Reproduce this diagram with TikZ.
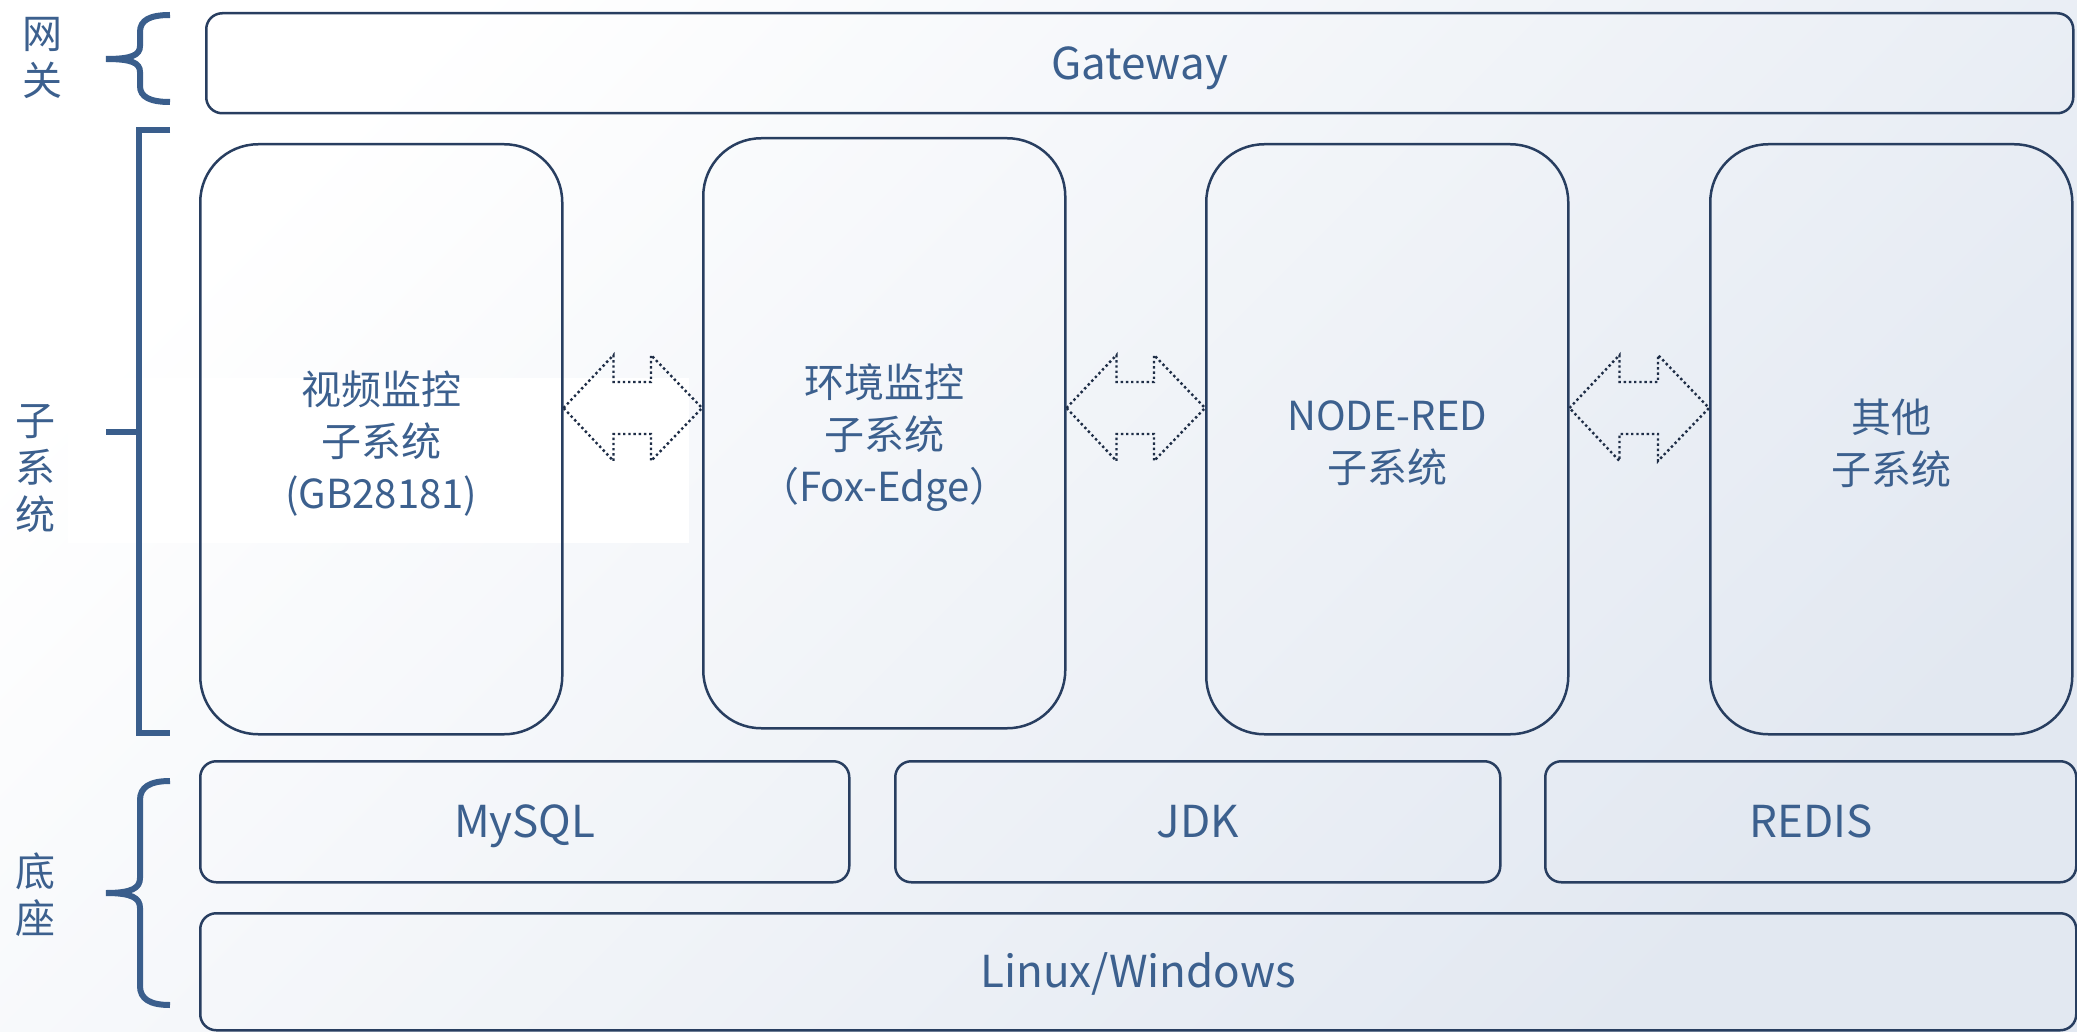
\documentclass[tikz,border=0pt]{standalone}
\usepackage{fontspec}
\setmainfont{Noto Sans CJK SC}
\usetikzlibrary{calc}
\definecolor{txtblue}{RGB}{60,96,142}
\definecolor{boxline}{RGB}{40,62,96}
\definecolor{bracecol}{RGB}{58,94,140}
\definecolor{dotline}{RGB}{30,45,70}
\definecolor{bgend}{RGB}{226,232,241}

\begin{document}
\begin{tikzpicture}[x=1pt, y=-1pt,
    box/.style={draw=boxline, line width=2.5pt, rounded corners=16pt, anchor=north west,
        inner sep=0pt, text=txtblue, align=center, font=\fontsize{44}{52}\selectfont,
        text height=40pt, text depth=8pt},
    subbox/.style={draw=boxline, line width=2.5pt, rounded corners=58pt, anchor=north west,
        minimum width=362pt, minimum height=590pt},
    subtext/.style={text=txtblue, align=center, font=\fontsize{40}{52}\selectfont},
    side/.style={text=txtblue, align=center, font=\fontsize{40}{47}\selectfont},
    bracket/.style={draw=bracecol, line width=6pt},
    link/.style={draw=dotline, line width=2.4pt, dash pattern=on 2.4pt off 2.8pt}]

    \useasboundingbox (0,0) rectangle (2077,1032);
    \shade[top color=white, bottom color=bgend, shading angle=45] (0,0) rectangle (2077,1032);
    \fill[white] (68,378) rectangle (689,543);

    % layers
    \node[box, minimum width=1867pt, minimum height=100pt] (gateway) at (205,12) {Gateway};

    \node[subbox] (video) at (199,143) {};
    \node[subbox] (env) at (702,137) {};
    \node[subbox] (nodered) at (1205,143) {};
    \node[subbox] (other) at (1709,143) {};
    \node[subtext] (videotext) at ([yshift=-4pt]video.center) {视频监控\\子系统\\(GB28181)};
    \node[subtext] (envtext) at ([yshift=-4pt]env.center) {环境监控\\子系统\\（Fox-Edge）};
    \node[subtext] (noderedtext) at ([yshift=-4pt]nodered.center) {NODE-RED\\子系统};
    \node[subtext] (othertext) at ([yshift=-4pt]other.center) {其他\\子系统};

    \node[box, minimum width=649pt, minimum height=121pt] (mysql) at (199,760) {MySQL};
    \node[box, minimum width=605pt, minimum height=121pt] (jdk) at (894,760) {JDK};
    \node[box, minimum width=531pt, minimum height=121pt] (redis) at (1544,760) {REDIS};
    \node[box, minimum width=1876pt, minimum height=117pt] (os) at (199,912) {Linux/Windows};

    % labels on the left
    \node[side] (lgate) at (43,58) {网\\关};
    \node[side] (lsub) at (36,468) {子\\系\\统};
    \node[side] (lbase) at (35,895) {底\\座};

    \draw[bracket] (170,15) .. controls (150,15) and (140,20) .. (140,32) -- (140,46)
        .. controls (140,55) and (132,59) .. (106,59)
        (106,59) .. controls (132,59) and (140,63) .. (140,72) -- (140,86)
        .. controls (140,97) and (150,102) .. (170,102);
    \draw[bracket] (170,130) -- (139,130) -- (139,733) -- (170,733);
    \draw[bracket] (106,432) -- (139,432);
    \draw[bracket] (170,781) .. controls (150,781) and (140,787) .. (140,800) -- (140,878)
        .. controls (140,888) and (132,893) .. (106,893)
        (106,893) .. controls (132,893) and (140,898) .. (140,908) -- (140,986)
        .. controls (140,999) and (150,1005) .. (170,1005);

    % double arrows between the subsystems
    \foreach \a/\b in {video/env, env/nodered, nodered/other} {
        \path (\a.east |- 0,408) coordinate (l) (\b.west |- 0,408) coordinate (r);
        \draw[link] (l) -- ($(l)+(50,-53)$) -- ($(l)+(50,-26)$) -- ($(r)+(-51,-26)$)
            -- ($(r)+(-51,-53)$) -- (r) -- ($(r)+(-51,53)$) -- ($(r)+(-51,26)$)
            -- ($(l)+(50,26)$) -- ($(l)+(50,53)$) -- cycle;
    }
\end{tikzpicture}
\end{document}
